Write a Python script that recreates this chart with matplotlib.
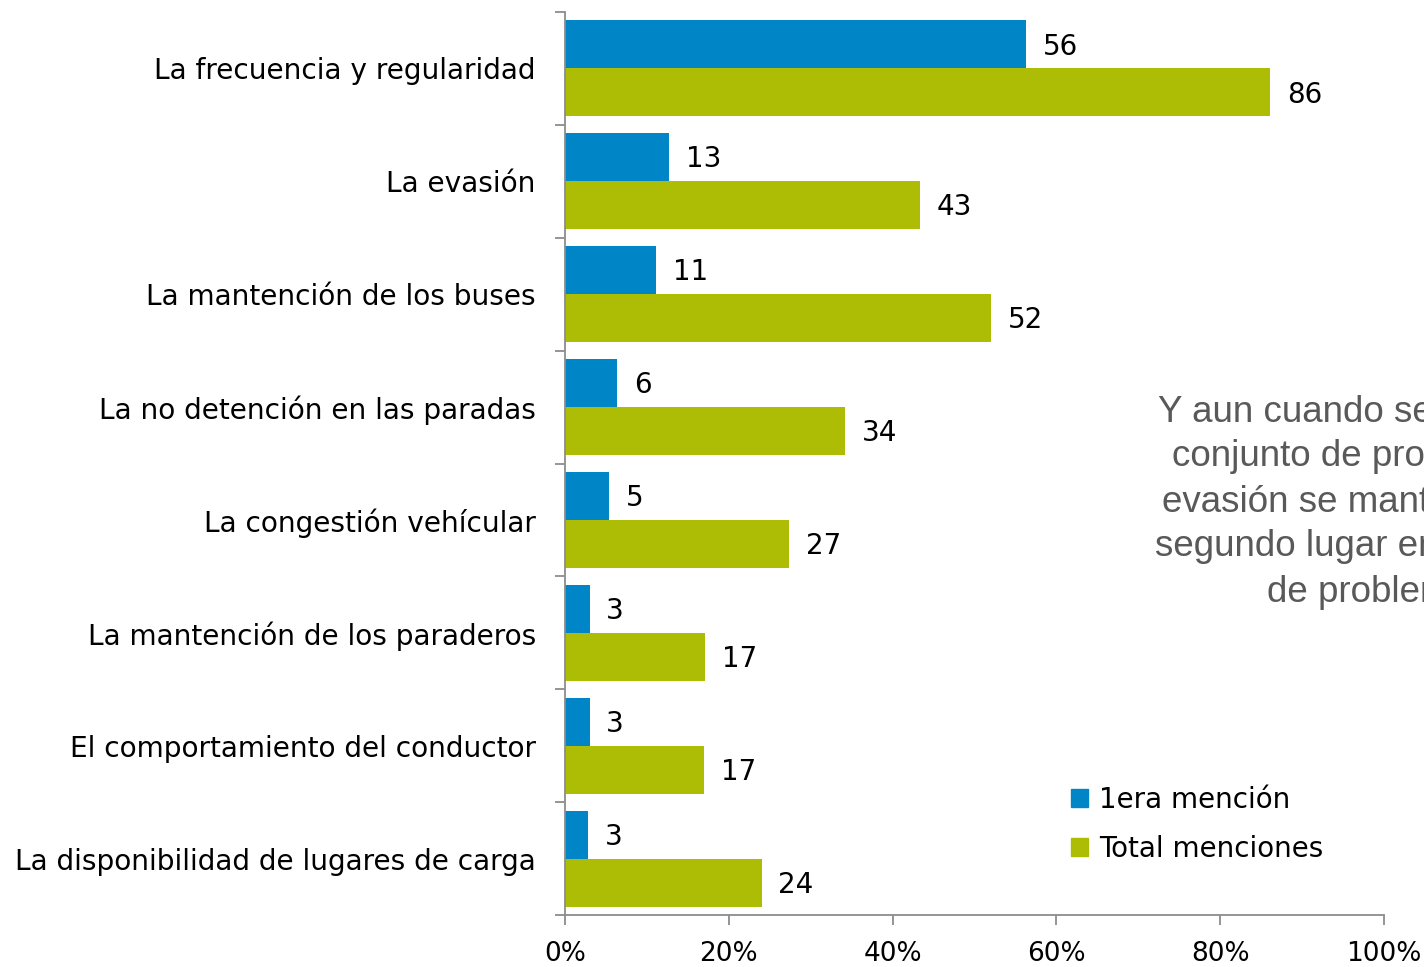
import numpy as np
import matplotlib.pyplot as plt
from matplotlib.patches import Patch

# Data
categories = ['La frecuencia y regularidad', 'La evasión', 'La mantención de los buses',
              'La no detención en las paradas', 'La congestión vehícular',
              'La mantención de los paraderos', 'El comportamiento del conductor',
              'La disponibilidad de lugares de carga']
primera = [56.3, 12.7, 11.1, 6.4, 5.4, 3.0, 3.0, 2.8]
total = [86.1, 43.4, 52.0, 34.2, 27.4, 17.1, 17.0, 24.0]
xticks = [0, 20, 40, 60, 80, 100]

blue = '#0086C6'
green = '#ADBC05'
axis_gray = '#8C8C8C'
# side note, cut off by the right edge in the original slide
note_lines = ['Y aun cuando se considera el', 'conjunto de problemas, la',
              'evasión se mantiene en el', 'segundo lugar en el ranking', 'de problemas']
note_x = [1158, 1172, 1162, 1155, 1267]

plt.rcParams['font.family'] = 'DejaVu Sans'

fig = plt.figure(figsize=(14.24, 9.67), dpi=100)
ax = fig.add_axes([565 / 1424, 1 - 915 / 967, 819 / 1424, 903 / 967])

y = np.arange(len(categories))
h = 0.425
b1 = ax.barh(y - h / 2, primera, height=h, color=blue, label='1era mención')
b2 = ax.barh(y + h / 2, total, height=h, color=green, label='Total menciones')

for bars, vals in ((b1, primera), (b2, total)):
    for bar, v in zip(bars, vals):
        ax.annotate(f'{v:.0f}', (bar.get_width(), bar.get_y() + bar.get_height() / 2),
                    xytext=(12, -1.5), textcoords='offset points', ha='left', va='center',
                    fontsize=20, color='black')

ax.set_xlim(0, 100)
ax.set_ylim(len(categories) - 0.5, -0.5)

ax.set_yticks(y)
ax.set_yticklabels(categories, fontsize=20.2)
ax.set_yticks(np.arange(len(categories) + 1) - 0.5, minor=True)
ax.tick_params(axis='y', which='major', length=0, pad=21)
ax.tick_params(axis='y', which='minor', length=7, width=1.3, color=axis_gray)

ax.set_xticks(xticks)
ax.set_xticklabels([f'{t}%' for t in xticks], fontsize=19)
ax.tick_params(axis='x', length=7, width=1.3, color=axis_gray, pad=12)

for s in ('top', 'right'):
    ax.spines[s].set_visible(False)
for s in ('left', 'bottom'):
    ax.spines[s].set_color(axis_gray)
    ax.spines[s].set_linewidth(1.3)

handles = [Patch(color=blue), Patch(color=green)]
fig.legend(handles, ['1era mención', 'Total menciones'], loc='upper left',
           bbox_to_anchor=(1046 / 1424, 1 - 761 / 967), frameon=False, fontsize=20,
           handlelength=0.6, handleheight=0.6, handletextpad=0.4, labelspacing=0.75)

for i, (line, lx) in enumerate(zip(note_lines, note_x)):
    fig.text(lx / 1424, 1 - (412 + 45 * i) / 967, line, ha='left', va='center',
             fontsize=26.5, family='Liberation Sans', color='#595959')

fig.savefig('out.png', dpi=100)
